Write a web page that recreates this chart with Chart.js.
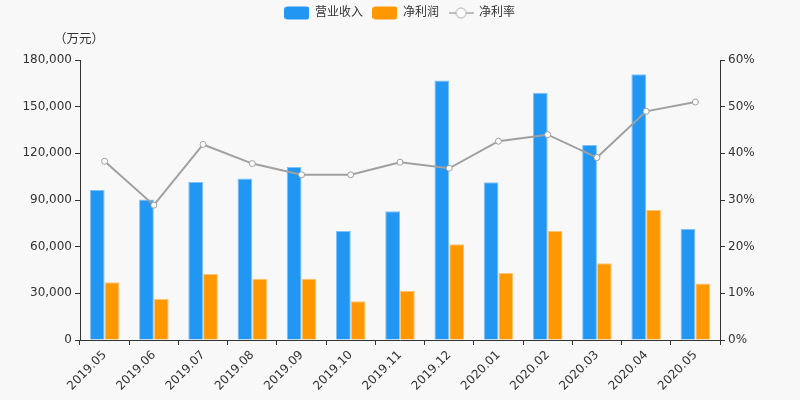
<!DOCTYPE html>
<html><head><meta charset="utf-8">
<script src="https://cdn.jsdelivr.net/npm/chart.js@4/dist/chart.umd.min.js"></script>
<style>html,body{margin:0;padding:0;background:#f8f8f8;}#wrap{width:800px;height:400px;}</style>
</head><body><div id="wrap"><canvas id="c" width="800" height="400"></canvas></div>
<script>
const categories = ['2019.05','2019.06','2019.07','2019.08','2019.09','2019.10','2019.11','2019.12','2020.01','2020.02','2020.03','2020.04','2020.05'];
const revenue = [96400, 90400, 101600, 103900, 111200, 70100, 82700, 166900, 101400, 159000, 125400, 170800, 71400];
const netProfit = [37100, 26400, 42400, 39400, 39400, 24900, 31700, 61500, 43100, 70100, 49300, 83600, 36400];
const netMargin = [38.3, 28.9, 41.9, 37.8, 35.4, 35.4, 38.1, 36.8, 42.6, 44.0, 39.1, 49.0, 51.0];
const seriesNames = ['营业收入','净利润','净利率'];
const unitLabel = '（万元）';

const FONT = "'DejaVu Sans','Noto Sans CJK SC',sans-serif";
const CJK = "'Noto Sans CJK SC',sans-serif";
const TXT = '#333';

function makeIcon(kind, color){
  const cv = document.createElement('canvas');
  cv.width = 25; cv.height = 14;
  const g = cv.getContext('2d');
  if(kind==='box'){
    g.fillStyle = color;
    g.beginPath();
    if(g.roundRect) g.roundRect(0,0.5,25,13,3); else g.rect(0,0.5,25,13);
    g.fill();
  } else {
    g.strokeStyle = color; g.lineWidth = 1.5;
    g.beginPath(); g.moveTo(0,7); g.lineTo(25,7); g.stroke();
    g.fillStyle = '#fff'; g.lineWidth = 1;
    g.beginPath(); g.arc(12.5,7,5,0,Math.PI*2); g.fill(); g.stroke();
  }
  return cv;
}
const icons = [makeIcon('box','#2196F3'), makeIcon('box','#FF9800'), makeIcon('line','#aaa')];

const bgPlugin = {
  id:'bg',
  beforeUpdate(chart){
    const lg = chart.legend;
    if(lg && !lg._patched){
      const origFit = lg.fit;
      lg.fit = function(){ origFit.call(this); this.height = 60; };
      const origDraw = lg.draw;
      lg.draw = function(){ const c = this.ctx; c.save(); c.translate(0,-3); origDraw.apply(this, arguments); c.restore(); };
      lg._patched = true;
    }
  },
  beforeDraw(chart){
    const c = chart.ctx; c.save(); c.fillStyle='#f8f8f8'; c.fillRect(0,0,chart.width,chart.height); c.restore();
  },
  afterDraw(chart){
    const c = chart.ctx; const a = chart.chartArea;
    c.save(); c.fillStyle = TXT; c.font = "12.5px " + CJK; c.textAlign='center'; c.textBaseline='middle';
    c.fillText(unitLabel, a.left - 1, a.top - 22);
    c.restore();
  }
};

new Chart(document.getElementById('c'), {
  data: {
    labels: categories,
    datasets: [
      {type:'line', label: seriesNames[2], data: netMargin, yAxisID:'y1', borderColor:'#a0a0a0', borderWidth:2,
       pointBackgroundColor:'#fff', pointBorderColor:'#a0a0a0', pointBorderWidth:1, pointRadius:3, tension:0, order:0},
      {type:'bar', label: seriesNames[0], data: revenue, yAxisID:'y', backgroundColor:'#2196F3', borderColor:'#7fc1f7', borderWidth:1, order:1},
      {type:'bar', label: seriesNames[1], data: netProfit, yAxisID:'y', backgroundColor:'#FF9800', borderColor:'#ffc473', borderWidth:1, order:1}
    ]
  },
  options: {
    responsive:false, animation:false, devicePixelRatio:1,
    layout:{padding:{top:0,left:0,right:0,bottom:0}},
    datasets:{bar:{categoryPercentage:0.6, barPercentage:1}},
    plugins:{
      legend:{
        position:'top',
        labels:{
          font:{size:12, family:FONT}, color:TXT, usePointStyle:true, pointStyleWidth:24, boxHeight:14, padding:10,
          generateLabels(chart){
            const order = [1,2,0];
            return order.map((di,i)=>({text: chart.data.datasets[di].label, pointStyle: icons[i], datasetIndex: di, fontColor: TXT, lineWidth:0, strokeStyle:'transparent', fillStyle:'transparent', hidden:false}));
          }
        }
      },
      tooltip:{enabled:false}
    },
    scales:{
      x:{
        grid:{drawOnChartArea:false, drawTicks:true, tickLength:5, color:'#333', offset:true},
        border:{display:true, color:'#333'},
        ticks:{color:TXT, font:{size:12, family:FONT}, maxRotation:45, minRotation:45, autoSkip:false},
        afterFit(s){ s.height = 60; }
      },
      y:{
        position:'left', min:0, max:180000,
        grid:{drawOnChartArea:false, drawTicks:true, tickLength:5, color:'#333'},
        border:{display:true, color:'#333'},
        ticks:{stepSize:30000, color:TXT, font:{size:12, family:FONT}, padding:3, callback:v=>v.toLocaleString('en-US')},
        afterFit(s){ s.width = 80; }
      },
      y1:{
        position:'right', min:0, max:60,
        grid:{drawOnChartArea:false, drawTicks:true, tickLength:5, color:'#333'},
        border:{display:true, color:'#333'},
        ticks:{stepSize:10, color:TXT, font:{size:12, family:FONT}, padding:3, callback:v=>v+'%'},
        afterFit(s){ s.width = 80; }
      }
    }
  },
  plugins:[bgPlugin]
});
</script></body></html>
